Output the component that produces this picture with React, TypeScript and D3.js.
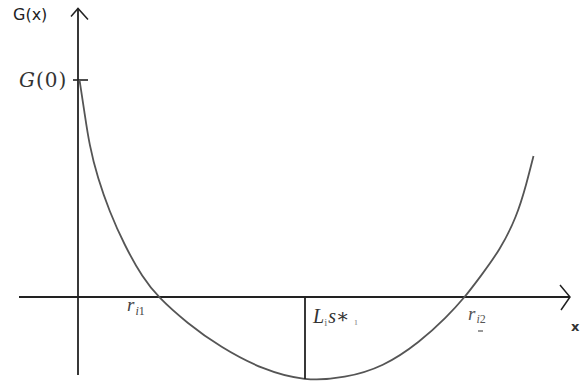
import React from "react";
import * as d3 from "d3";

// Curve G(x) (data units)
const curveX = [0.03, 0.126, 0.226, 0.394, 0.626, 0.926, 1.294, 1.6, 2.18, 2.84, 3.7, 4.54, 5.34, 6.1, 6.84, 7.374, 7.74, 8.04, 8.44, 8.774, 8.974, 9.11];
const curveY = [1.0, 0.857, 0.7, 0.548, 0.396, 0.24, 0.088, 0, -0.12, -0.23, -0.336, -0.388, -0.373, -0.323, -0.207, -0.092, 0, 0.092, 0.217, 0.369, 0.525, 0.65];

const r1 = 1.6;
const r2 = 7.74;
const minX = 4.54;
const minY = -0.378;
const g0 = 1;

const xAxisExtent = [-1.18, 9.84];
const yAxisExtent = [-0.36, 1.33];

const W = 582;
const H = 385;

export default function App() {
  const x = d3.scaleLinear().domain([0, 10]).range([78, 578]);
  const y = d3.scaleLinear().domain([0, 1]).range([297, 80]);

  const pts: [number, number][] = curveX.map((v, i) => [v, curveY[i]]);
  const line = d3
    .line<[number, number]>()
    .x((d) => x(d[0]))
    .y((d) => y(d[1]))
    .curve(d3.curveBasis);

  const x0 = x(0);
  const y0 = y(0);
  const xEnd = x(xAxisExtent[1]);
  const yTop = y(yAxisExtent[1]);

  const serif = "'DejaVu Serif', 'Liberation Serif', serif";
  const serif2 = "'Liberation Serif', 'DejaVu Serif', serif";
  const sans = "'DejaVu Sans', Verdana, sans-serif";

  return (
    <svg
      width={W}
      height={H}
      style={{ position: "absolute", left: 0, top: 0, background: "#fff" }}
    >
      {/* axes */}
      <line x1={x(xAxisExtent[0])} y1={y0} x2={xEnd} y2={y0} stroke="#222" strokeWidth={1.8} />
      <line x1={x0} y1={y(yAxisExtent[0])} x2={x0} y2={yTop} stroke="#222" strokeWidth={1.8} />
      {/* arrow heads */}
      <path
        d={`M${xEnd - 10},${y0 - 12} L${xEnd},${y0} L${xEnd - 9},${y0 + 13}`}
        fill="none"
        stroke="#222"
        strokeWidth={1.5}
      />
      <path
        d={`M${x0 - 7},${yTop + 8} L${x0},${yTop} L${x0 + 10},${yTop + 11}`}
        fill="none"
        stroke="#222"
        strokeWidth={1.5}
      />
      {/* G(0) tick */}
      <line x1={x0 - 5} y1={y(g0)} x2={x0 + 10} y2={y(g0)} stroke="#222" strokeWidth={1.6} />

      {/* curve */}
      <path d={line(pts) || ""} fill="none" stroke="#555" strokeWidth={1.8} />

      {/* vertical line at minimum */}
      <line x1={x(minX)} y1={y0} x2={x(minX)} y2={y(minY)} stroke="#222" strokeWidth={1.8} />

      {/* labels */}
      <text x={13} y={20} fontFamily={sans} fontSize={16} fill="#222">
        G(x)
      </text>
      <text x={19} y={87} fontFamily={serif} fontSize={20} fill="#333" letterSpacing={1}>
        <tspan fontStyle="italic">G</tspan>(0)
      </text>
      <text x={x(r1) - 31} y={311} fontFamily={serif2} fontSize={19} fill="#444">
        <tspan fontStyle="italic">r</tspan>
        <tspan fontSize={12} dy={4} dx={1}>
          <tspan fontStyle="italic">i</tspan>1
        </tspan>
      </text>
      <text x={x(minX) + 8} y={323} fontFamily={serif2} fontSize={20} fill="#333">
        <tspan fontStyle="italic">L</tspan>
        <tspan fontSize={11} dy={3} fill="#777">i</tspan>
        <tspan dy={-3} dx={1} fontStyle="italic">s</tspan>
        <tspan>∗</tspan>
        <tspan fontSize={11} dy={2} dx={5} fill="#999">ı</tspan>
      </text>
      <text x={x(r2) + 3} y={320} fontFamily={serif2} fontSize={19} fill="#555">
        <tspan fontStyle="italic">r</tspan>
        <tspan fontSize={12} dy={3} dx={1}>
          <tspan fontStyle="italic">i</tspan>2
        </tspan>
      </text>
      <line x1={x(r2) + 13} y1={331} x2={x(r2) + 18} y2={331} stroke="#777" strokeWidth={1.5} />
      <text x={571} y={331} fontFamily={sans} fontSize={13} fontWeight="bold" fill="#333">
        x
      </text>
    </svg>
  );
}
